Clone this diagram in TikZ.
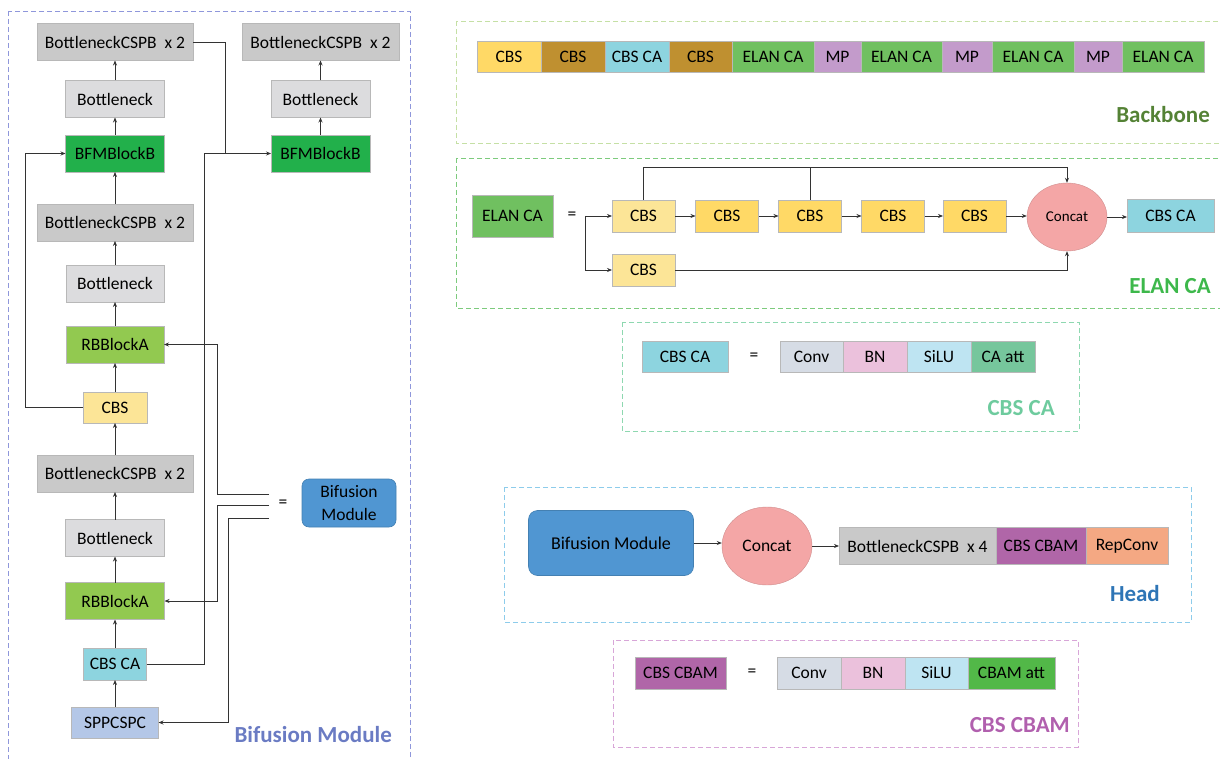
\documentclass[tikz,border=0pt]{standalone}
\usepackage{fontspec}
\setmainfont{Carlito}
\usepackage{tikz}
\usetikzlibrary{positioning}
\usetikzlibrary{shapes.geometric}
\usetikzlibrary{arrows.meta}

\definecolor{cspbg}{HTML}{C9C9C9}
\definecolor{btlg}{HTML}{DCDCDE}
\definecolor{bfmg}{HTML}{22B04B}
\definecolor{rbbg}{HTML}{92C950}
\definecolor{cbsy}{HTML}{FFD966}
\definecolor{cbsp}{HTML}{FCE597}
\definecolor{cbsca}{HTML}{8DD4DF}
\definecolor{sppb}{HTML}{B4C7E7}
\definecolor{bifub}{HTML}{5096D2}
\definecolor{cbsbr}{HTML}{BF9030}
\definecolor{elang}{HTML}{70C060}
\definecolor{mpl}{HTML}{C39BCB}
\definecolor{concatp}{HTML}{F4A6A6}
\definecolor{convg}{HTML}{D6DCE5}
\definecolor{bnp}{HTML}{EBC1DC}
\definecolor{silub}{HTML}{BEE4F2}
\definecolor{caatt}{HTML}{76C69C}
\definecolor{cbamatt}{HTML}{52B848}
\definecolor{cbscbam}{HTML}{B066A8}
\definecolor{repo}{HTML}{F4A883}
% panel and title colours
\definecolor{bifpan}{HTML}{8F97DB}
\definecolor{biftit}{HTML}{6A7BC3}
\definecolor{bbpan}{HTML}{C5E0A5}
\definecolor{bbtit}{HTML}{548235}
\definecolor{elpan}{HTML}{7DCB7D}
\definecolor{eltit}{HTML}{3DB84B}
\definecolor{capan}{HTML}{8ED8B0}
\definecolor{catit}{HTML}{6ECB9E}
\definecolor{hdpan}{HTML}{8DCCEB}
\definecolor{hdtit}{HTML}{2E75B6}
\definecolor{cbpan}{HTML}{D8A6D8}
\definecolor{cbtit}{HTML}{B160AE}

\newcommand{\bxfont}{\fontsize{17.5}{21}\selectfont}
\newcommand{\ttlfont}{\fontsize{23}{27}\selectfont\bfseries}

\begin{document}
\begin{tikzpicture}[x=1pt, y=-1pt,
  blk/.style={draw=black!28, line width=0.6pt, inner sep=0pt, outer sep=0pt, minimum height=37pt, font=\bxfont},
  arr/.style={-{Stealth[length=5pt,width=4pt]}, draw=black!80, line width=0.7pt},
  ln/.style={draw=black!80, line width=0.7pt},
  panel/.style={line width=0.9pt, dash pattern=on 5pt off 3pt},
  ttl/.style={font=\ttlfont, inner sep=0pt, anchor=base east}]

% Set the size of the figure
\useasboundingbox (0,0) rectangle (1220,759);

% ---- Bifusion Module panel ----
\draw[panel, bifpan] (8,11) rectangle (410,775);

\node[blk, fill=cspbg, minimum width=156pt] (csp1) at (115,42) {BottleneckCSPB~~x 2};
\node[blk, fill=btlg, minimum width=99pt] (bt1) at (115,99) {Bottleneck};
\node[blk, fill=bfmg, minimum width=99pt] (bfm1) at (115,153.5) {BFMBlockB};
\node[blk, fill=cspbg, minimum width=156pt] (csp2) at (115,222.5) {BottleneckCSPB~~x 2};
\node[blk, fill=btlg, minimum width=98pt] (bt2) at (115,283.5) {Bottleneck};
\node[blk, fill=rbbg, minimum width=98pt] (rbb1) at (115,344.5) {RBBlockA};
\node[blk, fill=cbsp, minimum width=64pt, minimum height=31pt] (cbs1) at (115,407.5) {CBS};
\node[blk, fill=cspbg, minimum width=156pt] (csp3) at (115,473.5) {BottleneckCSPB~~x 2};
\node[blk, fill=btlg, minimum width=99pt] (bt3) at (115,538) {Bottleneck};
\node[blk, fill=rbbg, minimum width=99pt] (rbb2) at (115,601) {RBBlockA};
\node[blk, fill=cbsca, minimum width=63pt, minimum height=32pt] (cbsca1) at (115,664) {CBS CA};
\node[blk, fill=sppb, minimum width=87pt, minimum height=31pt] (spp) at (115,722.5) {SPPCSPC};

\node[blk, fill=cspbg, minimum width=157pt] (csp4) at (320.5,42) {BottleneckCSPB~~x 2};
\node[blk, fill=btlg, minimum width=99pt] (bt4) at (320.5,99) {Bottleneck};
\node[blk, fill=bfmg, minimum width=99pt] (bfm2) at (320.5,153.5) {BFMBlockB};

\node[blk, fill=bifub, draw=bifub!85!black, rounded corners=7pt, minimum width=94pt, minimum height=48pt,
  align=center, font=\fontsize{17.5}{23}\selectfont] (bif1) at (349,503) {Bifusion\\Module};
\node[font=\bxfont, inner sep=0pt] (eq1) at (283,504) {=};

% vertical flow
\draw[arr] (spp) -- (cbsca1);
\draw[arr] (cbsca1) -- (rbb2);
\draw[arr] (rbb2) -- (bt3);
\draw[arr] (bt3) -- (csp3);
\draw[arr] (csp3) -- (cbs1);
\draw[arr] (cbs1) -- (rbb1);
\draw[arr] (rbb1) -- (bt2);
\draw[arr] (bt2) -- (csp2);
\draw[arr] (csp2) -- (bfm1);
\draw[arr] (bfm1) -- (bt1);
\draw[arr] (bt1) -- (csp1);
\draw[arr] (bfm2) -- (bt4);
\draw[arr] (bt4) -- (csp4);

% skip connections
\coordinate (kL) at (25,0);
\coordinate (kM) at (204.5,0);
\coordinate (kN) at (225,0);
\coordinate (kP) at (217,0);
\coordinate (kQ) at (228,0);
\draw[arr] (cbs1.west) -- (cbs1.west -| kL) |- (bfm1.west);
\draw[arr] (cbsca1.east) -- (cbsca1.east -| kM) |- (bfm2.west);
\draw[ln] (csp1.east) -- (csp1.east -| kN) -- (kN |- bfm2.west);

\coordinate (e1) at (269,494);
\coordinate (e2) at (269,505.5);
\coordinate (e3) at (269,518);
\draw[arr] (e1) -- (e1 -| kP) |- (rbb1.east);
\draw[arr] (e2) -- (e2 -| kP) |- (rbb2.east);
\draw[arr] (e3) -- (e3 -| kQ) |- (spp.east);

\node[ttl, text=biftit] (tbif) at (392,742) {Bifusion Module};

% ---- Backbone panel ----
\draw[panel, bbpan] (456,21) rectangle (1235,143);

\node[blk, fill=cbsy, minimum width=64pt, minimum height=31pt] (bb1) at (509,56.5) {CBS};
\node[blk, fill=cbsbr, minimum width=64pt, minimum height=31pt, right=0pt of bb1] (bb2) {CBS};
\node[blk, fill=cbsca, minimum width=64pt, minimum height=31pt, right=0pt of bb2] (bb3) {CBS CA};
\node[blk, fill=cbsbr, minimum width=63pt, minimum height=31pt, right=0pt of bb3] (bb4) {CBS};
\node[blk, fill=elang, minimum width=82pt, minimum height=31pt, right=0pt of bb4] (bb5) {ELAN CA};
\node[blk, fill=mpl, minimum width=47pt, minimum height=31pt, right=0pt of bb5] (bb6) {MP};
\node[blk, fill=elang, minimum width=81pt, minimum height=31pt, right=0pt of bb6] (bb7) {ELAN CA};
\node[blk, fill=mpl, minimum width=50pt, minimum height=31pt, right=0pt of bb7] (bb8) {MP};
\node[blk, fill=elang, minimum width=82pt, minimum height=31pt, right=0pt of bb8] (bb9) {ELAN CA};
\node[blk, fill=mpl, minimum width=48pt, minimum height=31pt, right=0pt of bb9] (bb10) {MP};
\node[blk, fill=elang, minimum width=82pt, minimum height=31pt, right=0pt of bb10] (bb11) {ELAN CA};

\node[ttl, text=bbtit] (tbb) at (1210,123) {Backbone};

% ---- ELAN CA panel ----
\draw[panel, elpan] (456,158) rectangle (1235,308);

\node[blk, fill=elang, minimum width=81pt, minimum height=42pt] (elan) at (512.5,216) {ELAN CA};
\node[font=\bxfont, inner sep=0pt] (eq2) at (572,216) {=};
\coordinate (sp) at (585,216);
\node[blk, fill=cbsp, minimum width=63pt, minimum height=32pt] (c1) at (643.5,216) {CBS};
\node[blk, fill=cbsy, minimum width=63pt, minimum height=32pt] (c2) at (727,216) {CBS};
\node[blk, fill=cbsy, minimum width=63pt, minimum height=32pt] (c3) at (810,216) {CBS};
\node[blk, fill=cbsy, minimum width=63pt, minimum height=32pt] (c4) at (893,216) {CBS};
\node[blk, fill=cbsy, minimum width=63pt, minimum height=32pt] (c5) at (974.5,216) {CBS};
\node[ellipse, fill=concatp, draw=concatp!85!black, line width=0.4pt, inner sep=0pt,
  minimum width=80pt, minimum height=68pt, font=\fontsize{15}{18}\selectfont] (cc1) at (1067,217) {Concat};
\node[blk, fill=cbsca, minimum width=87pt, minimum height=33pt] (ca2) at (1170.5,216) {CBS CA};
\node[blk, fill=cbsp, minimum width=63pt, minimum height=32pt] (c6) at (643.5,270) {CBS};

\coordinate (tp) at (0,167);
\draw[arr] (sp) -- (c1.west);
\draw[arr] (sp) |- (c6.west);
\draw[arr] (c1) -- (c2);
\draw[arr] (c2) -- (c3);
\draw[arr] (c3) -- (c4);
\draw[arr] (c4) -- (c5);
\draw[arr] (c5.east) -- (c5.east -| cc1.west);
\draw[arr] (cc1.east) -- (cc1.east -| ca2.west);
\draw[arr] (c1.north) -- (c1.north |- tp) -| (cc1.north);
\draw[ln] (c3.north) -- (c3.north |- tp);
\draw[arr] (c6.east) -| (cc1.south);

\node[ttl, text=eltit] (tel) at (1211,293) {ELAN CA};

% ---- CBS CA panel ----
\draw[panel, capan] (622,322) rectangle (1079,431);

\node[blk, fill=cbsca, minimum width=86pt, minimum height=31pt] (ca3) at (685,356.5) {CBS CA};
\node[font=\bxfont, inner sep=0pt] (eq3) at (754,357) {=};
\node[blk, fill=convg, minimum width=63pt, minimum height=31pt] (cv1) at (811.5,356.5) {Conv};
\node[blk, fill=bnp, minimum width=64pt, minimum height=31pt, right=0pt of cv1] (bn1) {BN};
\node[blk, fill=silub, minimum width=64pt, minimum height=31pt, right=0pt of bn1] (si1) {SiLU};
\node[blk, fill=caatt, minimum width=64pt, minimum height=31pt, right=0pt of si1] (at1) {CA att};

\node[ttl, text=catit] (tca) at (1055,415) {CBS CA};

% ---- Head panel ----
\draw[panel, hdpan] (504,487) rectangle (1191,622);

\node[blk, fill=bifub, draw=bifub!85!black, rounded corners=9pt, minimum width=165pt, minimum height=65pt,
  font=\fontsize{18}{21}\selectfont] (bif2) at (611,543) {Bifusion Module};
\node[ellipse, fill=concatp, draw=concatp!85!black, line width=0.4pt, inner sep=0pt,
  minimum width=90pt, minimum height=78pt, font=\bxfont] (cc2) at (767,546) {Concat};
\node[blk, fill=cspbg, minimum width=157pt] (hb1) at (917.5,546) {BottleneckCSPB~~x 4};
\node[blk, fill=cbscbam, minimum width=90pt, right=0pt of hb1] (hb2) {CBS CBAM};
\node[blk, fill=repo, minimum width=82pt, right=0pt of hb2] (hb3) {RepConv};

\draw[arr] (bif2.east) -- (bif2.east -| cc2.west);
\draw[arr] (cc2.east) -- (hb1.west);

\node[ttl, text=hdtit] (thd) at (1160,601) {Head};

% ---- CBS CBAM panel ----
\draw[panel, cbpan] (613,640) rectangle (1078,747);

\node[blk, fill=cbscbam, minimum width=91pt, minimum height=32pt] (cb1) at (680.5,673) {CBS CBAM};
\node[font=\bxfont, inner sep=0pt] (eq4) at (752,673) {=};
\node[blk, fill=convg, minimum width=64pt, minimum height=32pt] (cv2) at (809,673) {Conv};
\node[blk, fill=bnp, minimum width=64pt, minimum height=32pt, right=0pt of cv2] (bn2) {BN};
\node[blk, fill=silub, minimum width=63pt, minimum height=32pt, right=0pt of bn2] (si2) {SiLU};
\node[blk, fill=cbamatt, minimum width=87pt, minimum height=32pt, right=0pt of si2] (at2) {CBAM att};

\node[ttl, text=cbtit] (tcb) at (1070,732) {CBS CBAM};
\end{tikzpicture}
\end{document}
